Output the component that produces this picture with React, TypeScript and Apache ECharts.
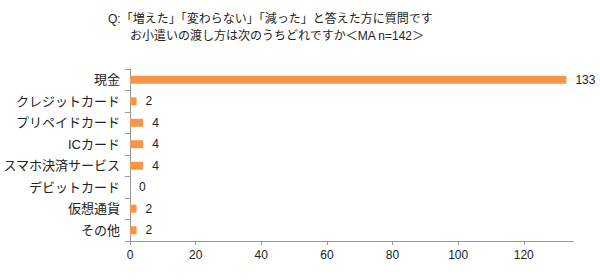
import React, { useEffect, useRef } from "react";
import * as echarts from "echarts";

const titleLine1 = "Q:「増えた」「変わらない」「減った」と答えた方に質問です";
const titleLine2 = "お小遣いの渡し方は次のうちどれですか＜MA n=142＞";
const categories = ["現金", "クレジットカード", "プリペイドカード", "ICカード", "スマホ決済サービス", "デビットカード", "仮想通貨", "その他"];
const values = [133, 2, 4, 4, 4, 0, 2, 2];
const tickValues = [0, 20, 40, 60, 80, 100, 120];

const FONT = "'Liberation Sans', 'Noto Sans CJK JP', sans-serif";

export default function App() {
  const ref = useRef<HTMLDivElement>(null);
  useEffect(() => {
    if (!ref.current) return;
    const chart = echarts.init(ref.current, null, { renderer: "svg" });
    chart.setOption({
      animation: false,
      backgroundColor: "#ffffff",
      textStyle: { fontFamily: FONT },
      title: [
        { text: titleLine1, left: 103, top: 8, textStyle: { fontSize: 12, fontWeight: "normal", color: "#222", fontFamily: FONT } },
        { text: titleLine2, left: 125, top: 25, textStyle: { fontSize: 12, fontWeight: "normal", color: "#222", fontFamily: FONT } },
      ],
      grid: { left: 128, right: 27, top: 69, bottom: 39, containLabel: false },
      xAxis: {
        type: "value",
        min: 0,
        max: 135,
        interval: 20,
        splitLine: { show: false },
        axisLine: { show: true, lineStyle: { color: "#999" } },
        axisTick: { show: true, length: 4, lineStyle: { color: "#999" }, customValues: tickValues },
        axisLabel: { color: "#222", fontSize: 12, margin: 8, fontFamily: FONT, customValues: tickValues },
      },
      yAxis: {
        type: "category",
        inverse: true,
        data: categories,
        axisLine: { show: true, lineStyle: { color: "#999" } },
        axisTick: { show: true, length: 5, lineStyle: { color: "#999" } },
        axisLabel: { color: "#222", fontSize: 13, margin: 10, fontFamily: FONT },
      },
      series: [
        {
          type: "bar",
          data: values,
          barWidth: 8,
          itemStyle: { color: "#F79646" },
          label: { show: true, position: "right", distance: 9, color: "#222", fontSize: 12, fontFamily: FONT },
        },
      ],
    });
    return () => chart.dispose();
  }, []);
  return <div ref={ref} style={{ position: "fixed", left: 0, top: 0, width: 600, height: 280 }} />;
}
